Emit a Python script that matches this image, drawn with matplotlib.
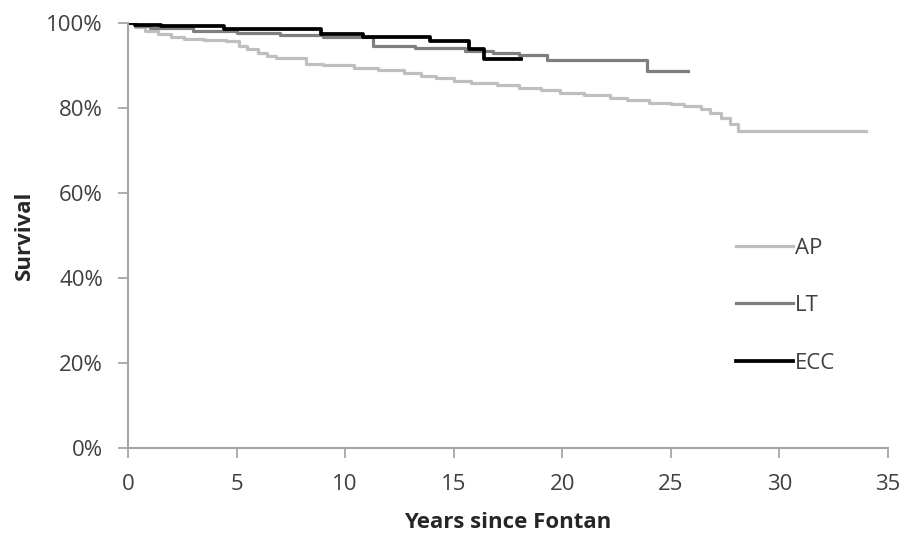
import matplotlib.pyplot as plt
from matplotlib.ticker import PercentFormatter

# Kaplan-Meier survival by Fontan type
ap_years = [0, 0.3, 0.8, 1.4, 2.0, 2.6, 3.5, 4.5, 5.1, 5.5, 6.0, 6.4, 6.8, 8.2, 9.0,
            10.4, 11.5, 12.7, 13.5, 14.2, 15.0, 15.8, 17.0, 18.0, 19.0, 19.9, 21.0,
            22.2, 23.0, 24.0, 25.0, 25.6, 26.4, 26.8, 27.3, 27.7, 28.1, 34.0]
ap_surv = [100, 99.0, 98.2, 97.4, 96.8, 96.2, 95.9, 95.7, 94.6, 93.8, 92.9, 92.2, 91.7,
           90.3, 90.0, 89.4, 88.9, 88.2, 87.6, 87.0, 86.4, 85.8, 85.3, 84.8, 84.2, 83.5,
           83.0, 82.3, 81.8, 81.2, 80.9, 80.4, 79.7, 78.8, 77.6, 76.2, 74.6, 74.6]

lt_years = [0, 0.3, 1.0, 3.0, 5.0, 7.0, 9.0, 11.3, 13.2, 15.5, 16.8, 18.0, 19.3, 23.9, 25.8]
lt_surv = [100, 99.3, 98.8, 98.2, 97.6, 97.2, 96.6, 94.5, 94.1, 93.5, 93.0, 92.5, 91.2,
           88.8, 88.8]

ecc_years = [0, 0.3, 1.5, 4.4, 8.9, 10.8, 13.9, 15.7, 16.4, 18.1]
ecc_surv = [100, 99.5, 99.2, 98.6, 97.4, 96.6, 95.8, 93.9, 91.6, 91.6]

plt.rcParams['font.family'] = ['Open Sans', 'DejaVu Sans']

fig = plt.figure(figsize=(9.08, 5.35), dpi=100)
ax = fig.add_axes([0.141, 0.163, 0.837, 0.794])

ax.step(ap_years, ap_surv, where='post', color='#bfbfbf', lw=2.3, label='AP')
ax.step(lt_years, lt_surv, where='post', color='#7f7f7f', lw=2.3, label='LT')
ax.step(ecc_years, ecc_surv, where='post', color='black', lw=2.7, label='ECC')

ax.set_xlim(0, 35)
ax.set_ylim(0, 100)
ax.set_xticks(range(0, 36, 5))
ax.set_yticks(range(0, 101, 20))
ax.yaxis.set_major_formatter(PercentFormatter(decimals=0))

for side in ['top', 'right']:
    ax.spines[side].set_visible(False)
for side in ['left', 'bottom']:
    ax.spines[side].set_color('#a6a6a6')
    ax.spines[side].set_linewidth(1.5)
ax.tick_params(colors='#a6a6a6', labelcolor='#404040', labelsize=16, length=7, width=1.3)
ax.tick_params(axis='y', pad=11)
ax.tick_params(axis='x', pad=12)

ax.set_xlabel('Years since Fontan', fontsize=16, fontweight='bold', color='#262626', labelpad=12)
ax.set_ylabel('Survival', fontsize=16, fontweight='bold', color='#262626', labelpad=8)

ax.legend(loc='upper left', bbox_to_anchor=(0.773, 0.542), frameon=False, fontsize=16,
          handlelength=2.57, handletextpad=0.1, labelspacing=1.65, labelcolor='#404040')

fig.savefig('out.png', dpi=100)
